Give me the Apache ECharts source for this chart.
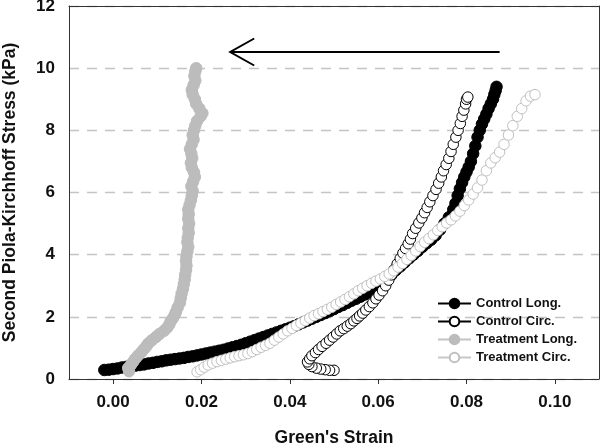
<!DOCTYPE html>
<html>
<head>
<meta charset="utf-8">
<script src="https://cdn.jsdelivr.net/npm/echarts@6/dist/echarts.min.js"></script>
<style>
html,body{margin:0;padding:0;background:#fff;}
#c{width:601px;height:444px;}
</style>
</head>
<body>
<div id="c"></div>
<script>
const seriesNames = ['Control Long.', 'Control Circ.', 'Treatment Long.', 'Treatment Circ.'];
const xTickValues = [0, 0.02, 0.04, 0.06, 0.08, 0.10];
const yTickValues = [0, 2, 4, 6, 8, 10, 12];

const controlLong = [
[-0.0020,0.29],[-0.0010,0.30],[0.0000,0.32],[0.0010,0.34],[0.0020,0.37],[0.0030,0.39],[0.0040,0.41],[0.0050,0.43],
[0.0060,0.45],[0.0070,0.47],[0.0080,0.50],[0.0090,0.52],[0.0100,0.55],[0.0110,0.57],[0.0120,0.60],[0.0130,0.62],
[0.0140,0.64],[0.0150,0.66],[0.0160,0.68],[0.0170,0.71],[0.0180,0.73],[0.0190,0.76],[0.0200,0.79],[0.0210,0.82],
[0.0220,0.85],[0.0230,0.88],[0.0240,0.91],[0.0250,0.94],[0.0260,0.98],[0.0270,1.02],[0.0280,1.06],[0.0290,1.10],
[0.0300,1.15],[0.0310,1.20],[0.0320,1.25],[0.0330,1.30],[0.0340,1.35],[0.0350,1.40],[0.0360,1.45],[0.0370,1.50],
[0.0380,1.55],[0.0390,1.60],[0.0400,1.65],[0.0410,1.70],[0.0420,1.76],[0.0430,1.82],[0.0440,1.88],[0.0450,1.94],
[0.0460,2.00],[0.0470,2.06],[0.0480,2.12],[0.0490,2.18],[0.0500,2.25],[0.0510,2.32],[0.0520,2.38],[0.0530,2.45],
[0.0540,2.52],[0.0550,2.58],[0.0560,2.65],[0.0570,2.72],[0.0580,2.80],[0.0590,2.87],[0.0600,2.95],[0.0610,3.07],
[0.0620,3.20],[0.0630,3.35],[0.0640,3.50],[0.0650,3.62],[0.0660,3.75],[0.0670,3.88],[0.0680,4.00],[0.0690,4.12],
[0.0700,4.25],[0.0710,4.37],[0.0720,4.48],[0.0730,4.62],[0.0740,4.80],[0.0750,5.00],[0.0760,5.20],[0.0770,5.45],
[0.0775,5.65],[0.0780,5.90],[0.0785,6.12],[0.0790,6.32],[0.0795,6.50],[0.0800,6.66],[0.0805,6.82],[0.0810,7.00],
[0.0815,7.25],[0.0820,7.50],[0.0825,7.78],[0.0830,8.00],[0.0835,8.20],[0.0840,8.36],[0.0845,8.52],[0.0850,8.70],
[0.0855,8.85],[0.0860,9.00],[0.0863,9.15],[0.0866,9.28],[0.0868,9.40]
];

const controlCirc = [
[0.0500,0.28],[0.0490,0.28],[0.0480,0.30],[0.0470,0.32],[0.0460,0.35],[0.0450,0.40],[0.0443,0.47],[0.0440,0.55],
[0.0445,0.65],[0.0450,0.75],[0.0458,0.85],[0.0465,0.95],[0.0473,1.05],[0.0482,1.15],[0.0490,1.25],[0.0498,1.35],
[0.0506,1.45],[0.0514,1.55],[0.0522,1.62],[0.0530,1.70],[0.0538,1.78],[0.0545,1.87],[0.0552,1.95],[0.0558,2.03],
[0.0565,2.12],[0.0572,2.22],[0.0580,2.33],[0.0588,2.45],[0.0595,2.58],[0.0602,2.70],[0.0610,2.84],[0.0617,3.00],
[0.0624,3.18],[0.0630,3.35],[0.0636,3.52],[0.0643,3.70],[0.0650,3.88],[0.0656,4.05],[0.0662,4.20],[0.0668,4.35],
[0.0673,4.50],[0.0678,4.68],[0.0685,4.85],[0.0692,5.02],[0.0699,5.18],[0.0705,5.35],[0.0711,5.52],[0.0717,5.70],
[0.0724,5.90],[0.0731,6.10],[0.0737,6.30],[0.0743,6.50],[0.0748,6.70],[0.0754,6.90],[0.0760,7.10],[0.0765,7.32],
[0.0770,7.55],[0.0776,7.78],[0.0781,8.00],[0.0786,8.22],[0.0790,8.45],[0.0794,8.65],[0.0798,8.85],[0.0800,9.00],
[0.0803,9.07]
];

const treatmentLong = [
[0.0036,0.25],[0.0034,0.35],[0.0040,0.45],[0.0045,0.55],[0.0050,0.65],[0.0056,0.75],[0.0063,0.85],[0.0069,0.95],
[0.0075,1.05],[0.0080,1.15],[0.0088,1.25],[0.0097,1.35],[0.0105,1.45],[0.0115,1.55],[0.0122,1.65],[0.0127,1.75],
[0.0130,1.85],[0.0135,1.95],[0.0139,2.05],[0.0142,2.15],[0.0146,2.30],[0.0151,2.45],[0.0153,2.60],[0.0155,2.75],
[0.0158,2.90],[0.0160,3.05],[0.0162,3.20],[0.0163,3.35],[0.0165,3.50],[0.0166,3.65],[0.0165,3.80],[0.0166,3.95],
[0.0168,4.10],[0.0170,4.25],[0.0168,4.40],[0.0169,4.55],[0.0171,4.70],[0.0170,4.85],[0.0172,5.00],[0.0170,5.15],
[0.0171,5.30],[0.0170,5.45],[0.0173,5.60],[0.0176,5.75],[0.0178,5.90],[0.0180,6.05],[0.0177,6.20],[0.0181,6.35],
[0.0185,6.50],[0.0183,6.65],[0.0178,6.80],[0.0176,6.95],[0.0179,7.10],[0.0177,7.25],[0.0174,7.40],[0.0178,7.55],
[0.0182,7.70],[0.0180,7.85],[0.0183,8.00],[0.0186,8.15],[0.0190,8.30],[0.0198,8.45],[0.0202,8.55],[0.0195,8.70],
[0.0188,8.85],[0.0185,9.00],[0.0180,9.15],[0.0178,9.30],[0.0182,9.45],[0.0186,9.60],[0.0184,9.75],[0.0186,9.90],
[0.0188,10.00]
];

const treatmentCirc = [
[0.0190,0.23],[0.0198,0.30],[0.0206,0.38],[0.0215,0.45],[0.0225,0.51],[0.0235,0.56],[0.0245,0.60],[0.0255,0.64],
[0.0265,0.68],[0.0275,0.72],[0.0285,0.75],[0.0295,0.78],[0.0305,0.82],[0.0315,0.88],[0.0325,0.95],[0.0335,1.02],
[0.0345,1.08],[0.0355,1.15],[0.0365,1.25],[0.0375,1.35],[0.0385,1.45],[0.0395,1.55],[0.0405,1.63],[0.0415,1.72],
[0.0425,1.80],[0.0435,1.88],[0.0445,1.96],[0.0455,2.04],[0.0465,2.10],[0.0475,2.17],[0.0485,2.24],[0.0495,2.31],
[0.0505,2.40],[0.0515,2.48],[0.0525,2.56],[0.0535,2.65],[0.0545,2.74],[0.0555,2.84],[0.0565,2.92],[0.0575,3.00],
[0.0585,3.08],[0.0595,3.15],[0.0605,3.22],[0.0615,3.30],[0.0625,3.38],[0.0635,3.48],[0.0645,3.60],[0.0655,3.72],
[0.0665,3.85],[0.0675,3.98],[0.0685,4.12],[0.0695,4.26],[0.0705,4.40],[0.0715,4.52],[0.0725,4.64],[0.0735,4.78],
[0.0745,4.90],[0.0755,5.02],[0.0765,5.12],[0.0775,5.25],[0.0785,5.40],[0.0795,5.58],[0.0805,5.76],[0.0815,5.95],
[0.0825,6.15],[0.0835,6.40],[0.0845,6.70],[0.0855,6.95],[0.0865,7.12],[0.0875,7.30],[0.0885,7.55],[0.0895,7.85],
[0.0905,8.15],[0.0915,8.45],[0.0925,8.70],[0.0935,8.95],[0.0945,9.10],[0.0955,9.15]
];

// annotation arrow (data coordinates): tail -> head
const arrowTail = [0.0875, 10.52];
const arrowHead = [0.0265, 10.52];

const FONT = 'Liberation Sans, Arial, sans-serif';
const GRAY = '#bcbcbc';

function mk(name, data, fill, stroke, lineColor, size) {
  return {
    name: name, type: 'line', data: data,
    xAxisIndex: 0, yAxisIndex: 0,
    symbol: 'circle', symbolSize: size, showSymbol: true, showAllSymbol: true,
    itemStyle: { color: fill, borderColor: stroke, borderWidth: 1 },
    lineStyle: { color: lineColor, width: 1 },
    emphasis: { disabled: true },
    animation: false
  };
}

const chart = echarts.init(document.getElementById('c'), null, { renderer: 'canvas' });
chart.setOption({
  backgroundColor: '#fff',
  animation: false,
  grid: { left: 69, right: 2, top: 6, bottom: 65, outerBoundsMode: 'none', containLabel: false },
  legend: {
    data: seriesNames, orient: 'vertical', left: 437, top: 297, padding: 0,
    itemWidth: 33, itemHeight: 12, itemGap: 5,
    lineStyle: { width: 2 },
    textStyle: { fontSize: 13, fontWeight: 'bold', fontFamily: FONT, color: '#111' }
  },
  xAxis: [{
    type: 'value', min: -0.01, max: 0.11,
    axisLine: { show: true, onZero: false, lineStyle: { color: '#333', width: 1 } },
    axisTick: { show: true, customValues: xTickValues, length: 5, inside: false, lineStyle: { color: '#333' } },
    axisLabel: { customValues: xTickValues, formatter: v => v.toFixed(2), fontSize: 17, fontWeight: 'bold', fontFamily: FONT, color: '#111', margin: 15 },
    splitLine: { show: false },
    name: "Green's Strain", nameLocation: 'middle', nameGap: 50,
    nameTextStyle: { fontSize: 17.5, fontWeight: 'bold', fontFamily: FONT, color: '#111' }
  }, {
    type: 'value', position: 'top', min: -0.01, max: 0.11,
    axisLine: { show: true, onZero: false, lineStyle: { color: '#333', width: 1 } },
    axisTick: { show: false }, axisLabel: { show: false }, splitLine: { show: false }
  }],
  yAxis: [{
    type: 'value', min: 0, max: 12, interval: 2,
    axisLine: { show: true, onZero: false, lineStyle: { color: '#333', width: 1 } },
    axisTick: { show: false },
    axisLabel: { fontSize: 17, fontWeight: 'bold', fontFamily: FONT, color: '#111', margin: 14 },
    splitLine: { show: true, lineStyle: { color: '#c4c4c4', width: 1.3, type: [10, 8] } },
    name: 'Second Piola-Kirchhoff Stress (kPa)', nameLocation: 'middle', nameGap: 50,
    nameTextStyle: { fontSize: 17.5, fontWeight: 'bold', fontFamily: FONT, color: '#111' }
  }, {
    type: 'value', position: 'right', min: 0, max: 12,
    axisLine: { show: true, onZero: false, lineStyle: { color: '#333', width: 1 } },
    axisTick: { show: false }, axisLabel: { show: false }, splitLine: { show: false }
  }],
  series: [
    mk(seriesNames[0], controlLong, '#000', '#000', '#000', 11.5),
    mk(seriesNames[1], controlCirc, '#fff', '#000', '#000', 10.5),
    mk(seriesNames[2], treatmentLong, GRAY, GRAY, '#c4c4c4', 11.5),
    mk(seriesNames[3], treatmentCirc, '#fff', '#c0c0c0', '#c8c8c8', 10.5)
  ]
});

const t = chart.convertToPixel({ xAxisIndex: 0, yAxisIndex: 0 }, arrowTail);
const h = chart.convertToPixel({ xAxisIndex: 0, yAxisIndex: 0 }, arrowHead);
chart.setOption({
  graphic: [
    { type: 'line', shape: { x1: t[0], y1: t[1], x2: h[0], y2: h[1] }, style: { stroke: '#000', lineWidth: 2 }, z: 100 },
    { type: 'polyline', shape: { points: [[h[0] + 24, h[1] - 13.5], [h[0], h[1]], [h[0] + 24, h[1] + 13.5]] }, style: { stroke: '#000', lineWidth: 2, fill: null }, z: 100 }
  ]
});
</script>
</body>
</html>
